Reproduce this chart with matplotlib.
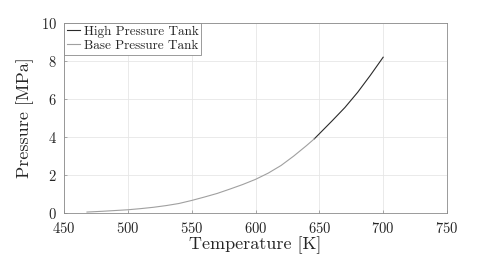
import matplotlib
matplotlib.use("Agg")
import matplotlib.pyplot as plt

plt.rcParams['font.family'] = 'serif'
plt.rcParams['font.serif'] = ['cmr10', 'DejaVu Serif']
plt.rcParams['mathtext.fontset'] = 'cm'
plt.rcParams['axes.formatter.use_mathtext'] = True

base_T = [468, 480, 490, 500, 510, 520, 530, 540, 550, 560, 570, 580, 590,
          600, 610, 620, 630, 640, 646]
base_P = [0.05, 0.09, 0.13, 0.17, 0.23, 0.30, 0.39, 0.50, 0.66, 0.84, 1.03,
          1.26, 1.50, 1.77, 2.10, 2.50, 3.00, 3.55, 3.90]
high_T = [646, 650, 660, 670, 680, 690, 700]
high_P = [3.90, 4.17, 4.85, 5.55, 6.35, 7.25, 8.2]

fig = plt.figure(figsize=(4.8, 2.69), dpi=100)
ax = fig.add_axes([64/480, 1-213/269, 383/480, 190/269])
ax.plot(high_T, high_P, color='#2a2a2a', lw=0.8, label='High Pressure Tank')
ax.plot(base_T, base_P, color='#a0a0a0', lw=0.8, label='Base Pressure Tank')
ax.set_xlim(450, 750)
ax.set_ylim(0, 10)
ax.set_xticks([450, 500, 550, 600, 650, 700, 750])
ax.set_yticks([0, 2, 4, 6, 8, 10])
ax.grid(True, color='#e6e6e6', lw=0.6)
ax.set_axisbelow(True)
for s in ax.spines.values():
    s.set_color('#8a8a8a')
    s.set_linewidth(0.6)
ax.tick_params(direction='in', length=2.5, width=0.5, color='#8a8a8a', labelsize=10.5, labelcolor='#262626')
ax.tick_params(axis='x', pad=6)
ax.tick_params(axis='y', pad=5)
ax.set_xlabel('Temperature [K]', fontsize=13, color='#262626', labelpad=0)
ax.set_ylabel('Pressure [MPa]', fontsize=13, color='#262626', labelpad=5)
leg = ax.legend(loc='upper left', fontsize=9.5, handlelength=1.0, handletextpad=0.3,
                borderaxespad=0.0, borderpad=0.2, labelspacing=0.15, fancybox=False,
                framealpha=1)
leg.get_frame().set_edgecolor('#8a8a8a')
leg.get_frame().set_linewidth(0.6)
for t in leg.get_texts():
    t.set_color('#262626')
fig.savefig('out.png', dpi=100)
